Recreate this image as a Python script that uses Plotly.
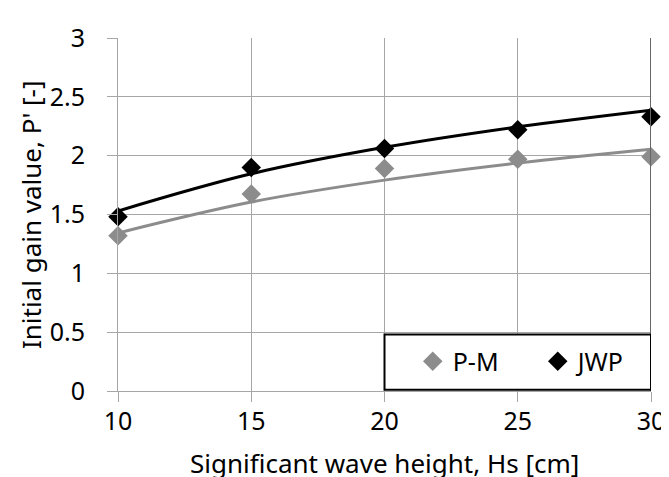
import plotly.graph_objects as go

# Data
wave_height = [10, 15, 20, 25, 30]
pm_values = [1.32, 1.675, 1.89, 1.97, 1.99]
jwp_values = [1.48, 1.90, 2.06, 2.22, 2.33]
# Trend curves as drawn in the reference, read at the same x positions
pm_trend = [1.343, 1.606, 1.792, 1.937, 2.055]
jwp_trend = [1.53, 1.846, 2.071, 2.245, 2.387]
series_names = ["P-M", "JWP"]

x_title = "Significant wave height, Hs [cm]"
y_title = "Initial gain value, P' [-]"

FONT = "Noto Sans"
GRAY = "#8c8c8c"
GRID = "#a6a6a6"

fig = go.Figure()

for trend, col in [(pm_trend, GRAY), (jwp_trend, "#000000")]:
    fig.add_trace(go.Scatter(x=wave_height, y=trend, mode="lines",
                             line=dict(color=col, width=3, shape="spline", smoothing=1),
                             showlegend=False, hoverinfo="skip"))

for name, vals, col in [(series_names[0], pm_values, GRAY), (series_names[1], jwp_values, "#000000")]:
    fig.add_trace(go.Scatter(x=wave_height, y=vals, mode="markers", name=name,
                             marker=dict(symbol="diamond", size=15, color=col),
                             cliponaxis=False))

fig.update_layout(
    width=669, height=477,
    margin=dict(l=110, r=16, t=21, b=94),
    paper_bgcolor="white", plot_bgcolor="white",
    font=dict(family=FONT, size=25, color="#000"),
    showlegend=True,
    legend=dict(orientation="h", x=0.553, xanchor="left", y=0.0837, yanchor="middle",
                bgcolor="rgba(0,0,0,0)", borderwidth=0, entrywidth=80,
                font=dict(family=FONT, size=25)),
    xaxis=dict(range=[10, 30], tick0=10, dtick=5, ticks="outside", ticklen=10, tickcolor=GRID,
               showgrid=True, gridcolor=GRID, gridwidth=1, showline=True, linecolor=GRID,
               zeroline=False, ticklabelstandoff=-2),
    yaxis=dict(range=[0, 3], tick0=0, dtick=0.5, ticks="outside", ticklen=10, tickcolor=GRID,
               showgrid=True, gridcolor=GRID, gridwidth=1, showline=True, linecolor=GRID,
               zeroline=False, ticklabelstandoff=17),
    shapes=[
        dict(type="line", xref="x", yref="y", x0=30, x1=30, y0=0, y1=3,
             line=dict(color="#666666", width=2)),
        dict(type="rect", xref="x", yref="y", x0=20, x1=30, y0=0.011, y1=0.48,
             fillcolor="white", line=dict(color="#000000", width=2), layer="above"),
    ],
    annotations=[
        dict(text=x_title, xref="paper", yref="paper", x=0.5, y=-0.203, xanchor="center",
             yanchor="middle", showarrow=False, font=dict(family=FONT, size=26)),
        dict(text=y_title, xref="paper", yref="paper", x=-0.164, y=0.5, xanchor="center",
             yanchor="middle", textangle=-90, showarrow=False, font=dict(family=FONT, size=26)),
    ],
)

fig.write_html("out.html")
